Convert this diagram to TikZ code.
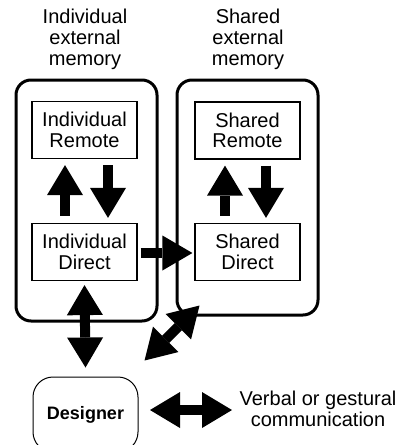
\documentclass[tikz,border=0pt]{standalone}
\usepackage{fontspec}
\setmainfont{Liberation Sans}
\usetikzlibrary{arrows.meta,calc}
\begin{document}
\begin{tikzpicture}[x=1pt,y=-1pt,
  lbl/.style={align=center, font=\fontsize{20}{21}\selectfont, inner sep=0pt},
  inbox/.style={draw, line width=1.2pt, minimum width=105pt, minimum height=57pt, align=center, inner sep=0pt, font=\fontsize{20}{20.5}\selectfont},
  container/.style={draw, line width=3pt, rounded corners=15pt, minimum width=141pt, inner sep=0pt},
  tipA/.tip={Triangle[length=30pt,width=36pt,line width=0pt]},
  blk/.style={line width=10pt, -tipA},
  dblk/.style={line width=10pt, tipA-tipA},
]
\useasboundingbox (0,0) rectangle (399,445);
\node[container, minimum height=241pt] (indmem) at (86.5,200.5) {};
\node[container, minimum height=235pt] (shmem) at (247.5,197.5) {};
\node[inbox] (ir) at (84.5,130) {Individual\\Remote};
\node[inbox] (id) at (84.5,252) {Individual\\Direct};
\node[inbox] (sr) at (247.5,130.5) {Shared\\Remote};
\node[inbox] (sd) at (247.5,252) {Shared\\Direct};
\node[lbl] (indlbl) at (85,39) {Individual\\external\\memory};
\node[lbl] (shlbl) at (248,39) {Shared\\external\\memory};
\node[draw, line width=1pt, rounded corners=20pt, minimum width=105pt, minimum height=75pt, inner sep=0pt, font=\bfseries\fontsize{18}{18}\selectfont] (des) at (85.5,414.5) {Designer};
\node[lbl] (comm) at (318,409) {Verbal or gestural\\communication};
\coordinate (c1) at (150,410);
\coordinate (c2) at (232,410);
% remote <-> direct
\draw[blk] ($(id.north)+(-19.5,-7)$) -- ($(ir.south)+(-19.5,6)$);
\draw[blk] ($(ir.south)+(23.5,6)$) -- ($(id.north)+(23.5,-5)$);
\draw[blk] ($(sd.north)+(-22.5,-7)$) -- ($(sr.south)+(-22.5,6)$);
\draw[blk] ($(sr.south)+(18.5,6)$) -- ($(sd.north)+(18.5,-5)$);
% individual direct -> shared direct
\draw[blk,-{Triangle[length=30pt,width=35pt,line width=0pt]}] ($(id.east)+(3,1)$) -- ($(sd.west)+(-2,1)$);
% designer links
\draw[dblk] ($(id.south)+(0,4)$) -- ($(des.north)+(0,-9)$);
\draw[dblk] ($(shmem.south west)+(24,-11)$) -- ($(des.north east)+(6,-16)$);
\draw[dblk] (c1) -- (c2);
\end{tikzpicture}
\end{document}
